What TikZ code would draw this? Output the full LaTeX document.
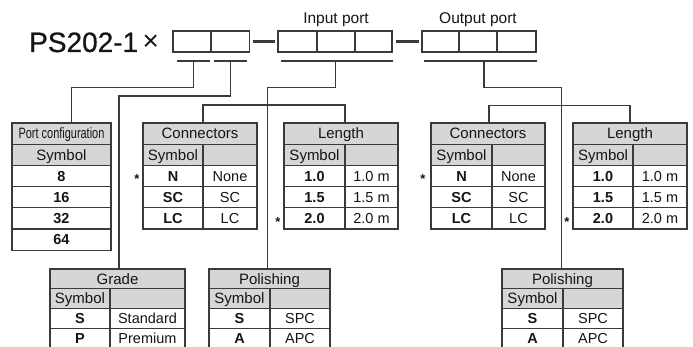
\documentclass[tikz,border=0pt]{standalone}
\usepackage{fontspec}
\setmainfont{Liberation Sans}
\newfontfamily\titlefont[FakeBold=0.6]{Liberation Sans}
\usetikzlibrary{calc}
\definecolor{linec}{HTML}{3A3A3A}
\definecolor{hdr}{HTML}{D6D6D6}
\definecolor{txt}{HTML}{151515}
\newcommand\fbody{\fontsize{14.5}{16}\selectfont}
\newcommand\fhead{\fontsize{15}{16}\selectfont}
% row of a two-column table: name, x, y, left width, right width, left text, right text, height
\newcommand\trow[8]{%
  \node[cell,minimum width=#4,minimum height=#8] (#1a) at (#2,#3) {\bfseries #6};
  \node[cell,minimum width=#5,minimum height=#8] (#1b) at (#2+#4,#3) {#7};}
\newcommand\hrow[8]{%
  \node[hcell,minimum width=#4,minimum height=#8] (#1a) at (#2,#3) {#6};
  \node[hcell,minimum width=#5,minimum height=#8] (#1b) at (#2+#4,#3) {#7};}
\begin{document}
\begin{tikzpicture}[x=1pt,y=-1pt,
  cell/.style={draw=linec,line width=1.1pt,inner sep=0pt,outer sep=0pt,anchor=north west,
    minimum height=21.2pt,text=txt,font=\fbody,text height=10.6pt,text depth=0pt},
  hcell/.style={cell,fill=hdr,font=\fhead},
  wire/.style={draw=linec,line width=1.2pt},
  port/.style={draw=linec,line width=1.9pt,inner sep=0pt,outer sep=0pt,anchor=north west,
    minimum height=21pt,minimum width=38pt},
  sep/.style={draw=linec,line width=2.8pt},
  star/.style={font=\bfseries\fontsize{13}{13}\selectfont,text=txt,anchor=base,inner sep=0pt}]
\clip (0,0) rectangle (693,347);
\fill[white] (0,0) rectangle (693,347);

% ---------- model code ----------
\node[anchor=base west,inner sep=0pt,text=txt,font=\titlefont\fontsize{28}{30}\selectfont] (pn) at (29,52) {PS202-1};
\node[anchor=base west,inner sep=0pt,text=txt,font=\fontsize{28}{30}\selectfont] (tm) at (142.5,51) {×};
\node[port] (p1) at (173,31) {};
\node[port,minimum width=38.5pt] (p2) at (211,31) {};
\node[port,minimum width=39pt] (i1) at (278,31) {};
\node[port] (i2) at (317,31) {};
\node[port,minimum width=37pt] (i3) at (355,31) {};
\node[port,minimum width=37pt] (o1) at (422,31) {};
\node[port] (o2) at (459,31) {};
\node[port,minimum width=39pt] (o3) at (497,31) {};
\draw[sep] ([xshift=3]p2.east) -- ([xshift=-3]i1.west);
\draw[sep] ([xshift=4]i3.east) -- ([xshift=-3]o1.west);
\node[anchor=base,inner sep=0pt,text=txt,font=\fontsize{15.5}{16}\selectfont] (ipl) at (i2.north |- 0,24) {Input port};
\node[anchor=base,inner sep=0pt,text=txt,font=\fontsize{15.5}{16}\selectfont] (opl) at (o2.north |- 0,24) {Output port};

% brackets
\coordinate (b1l) at (177,61); \coordinate (b1r) at (210,61); \coordinate (b1) at (193.5,61);
\coordinate (b2l) at (214,61); \coordinate (b2r) at (247,61); \coordinate (b2) at (230.5,61);
\coordinate (b3l) at (281,61); \coordinate (b3r) at (393,61); \coordinate (b3) at (335.5,61);
\coordinate (b4l) at (424,61); \coordinate (b4r) at (537,61); \coordinate (b4) at (484,61);
\foreach \b in {b1,b2,b3,b4} \draw[wire] (\b l) -- (\b r);

% ---------- Port configuration ----------
\node[hcell,minimum width=99] (pch) at (12,123) {\scalebox{0.73}[1]{Port configuration}};
\node[hcell,minimum width=99] (pcs) at (12,144.2) {Symbol};
\node[cell,minimum width=99] (pc1) at (12,165.4) {\bfseries 8};
\node[cell,minimum width=99] (pc2) at (12,186.6) {\bfseries 16};
\node[cell,minimum width=99] (pc3) at (12,207.8) {\bfseries 32};
\node[cell,minimum width=99] (pc4) at (12,229) {\bfseries 64};

% ---------- Connectors (input) ----------
\node[hcell,minimum width=114] (cnLh) at (143,123) {Connectors};
\hrow{cnLs}{143}{144.2}{60}{54}{Symbol}{}{21.2}
\trow{cnL1}{143}{165.4}{60}{54}{N}{None}{21.2}
\trow{cnL2}{143}{186.6}{60}{54}{SC}{SC}{21.2}
\trow{cnL3}{143}{207.8}{60}{54}{LC}{LC}{21.2}
\node[star] (s1) at (137,184) {*};

% ---------- Length (input) ----------
\node[hcell,minimum width=114] (lnLh) at (284,123) {Length};
\hrow{lnLs}{284}{144.2}{61}{53}{Symbol}{}{21.2}
\trow{lnL1}{284}{165.4}{61}{53}{1.0}{1.0 m}{21.2}
\trow{lnL2}{284}{186.6}{61}{53}{1.5}{1.5 m}{21.2}
\trow{lnL3}{284}{207.8}{61}{53}{2.0}{2.0 m}{21.2}
\node[star] (s2) at (278,227) {*};

% ---------- Connectors (output) ----------
\node[hcell,minimum width=114] (cnRh) at (431,123) {Connectors};
\hrow{cnRs}{431}{144.2}{61}{53}{Symbol}{}{21.2}
\trow{cnR1}{431}{165.4}{61}{53}{N}{None}{21.2}
\trow{cnR2}{431}{186.6}{61}{53}{SC}{SC}{21.2}
\trow{cnR3}{431}{207.8}{61}{53}{LC}{LC}{21.2}
\node[star] (s3) at (423,184) {*};

% ---------- Length (output) ----------
\node[hcell,minimum width=114] (lnRh) at (573,123) {Length};
\hrow{lnRs}{573}{144.2}{60}{54}{Symbol}{}{21.2}
\trow{lnR1}{573}{165.4}{60}{54}{1.0}{1.0 m}{21.2}
\trow{lnR2}{573}{186.6}{60}{54}{1.5}{1.5 m}{21.2}
\trow{lnR3}{573}{207.8}{60}{54}{2.0}{2.0 m}{21.2}
\node[star] (s4) at (567,227) {*};

% ---------- Grade ----------
\node[hcell,minimum width=135,minimum height=19.7] (grh) at (50,269) {Grade};
\hrow{grs}{50}{288.7}{60}{75}{Symbol}{}{19.7}
\trow{gr1}{50}{308.4}{60}{75}{S}{Standard}{19.7}
\trow{gr2}{50}{328.1}{60}{75}{P}{Premium}{19.7}

% ---------- Polishing (input) ----------
\node[hcell,minimum width=121,minimum height=19.7] (plLh) at (209,269) {Polishing};
\hrow{plLs}{209}{288.7}{61}{60}{Symbol}{}{19.7}
\trow{plL1}{209}{308.4}{61}{60}{S}{SPC}{19.7}
\trow{plL2}{209}{328.1}{61}{60}{A}{APC}{19.7}

% ---------- Polishing (output) ----------
\node[hcell,minimum width=121,minimum height=19.7] (plRh) at (502,269) {Polishing};
\hrow{plRs}{502}{288.7}{61}{60}{Symbol}{}{19.7}
\trow{plR1}{502}{308.4}{61}{60}{S}{SPC}{19.7}
\trow{plR2}{502}{328.1}{61}{60}{A}{APC}{19.7}

% ---------- connectors ----------
\draw[wire] (b1) -- ++(0,26.5) -| ([xshift=10]pch.north);
\draw[wire] (b2) -- ++(0,35) -| ([xshift=1.5]grh.north);
\draw[wire] (b3) -- ++(0,26.5) -| ([xshift=-2]plLh.north);
\draw[wire] ([xshift=3]cnLh.north) -- ++(0,-18) -| ([xshift=4]lnLh.north);
\draw[wire] (b4) -- ++(0,26.5) -| ([xshift=-1]plRh.north);
\draw[wire] ([xshift=1]cnRh.north) -- ++(0,-17.5) -| ([xshift=0]lnRh.north);
\end{tikzpicture}
\end{document}
